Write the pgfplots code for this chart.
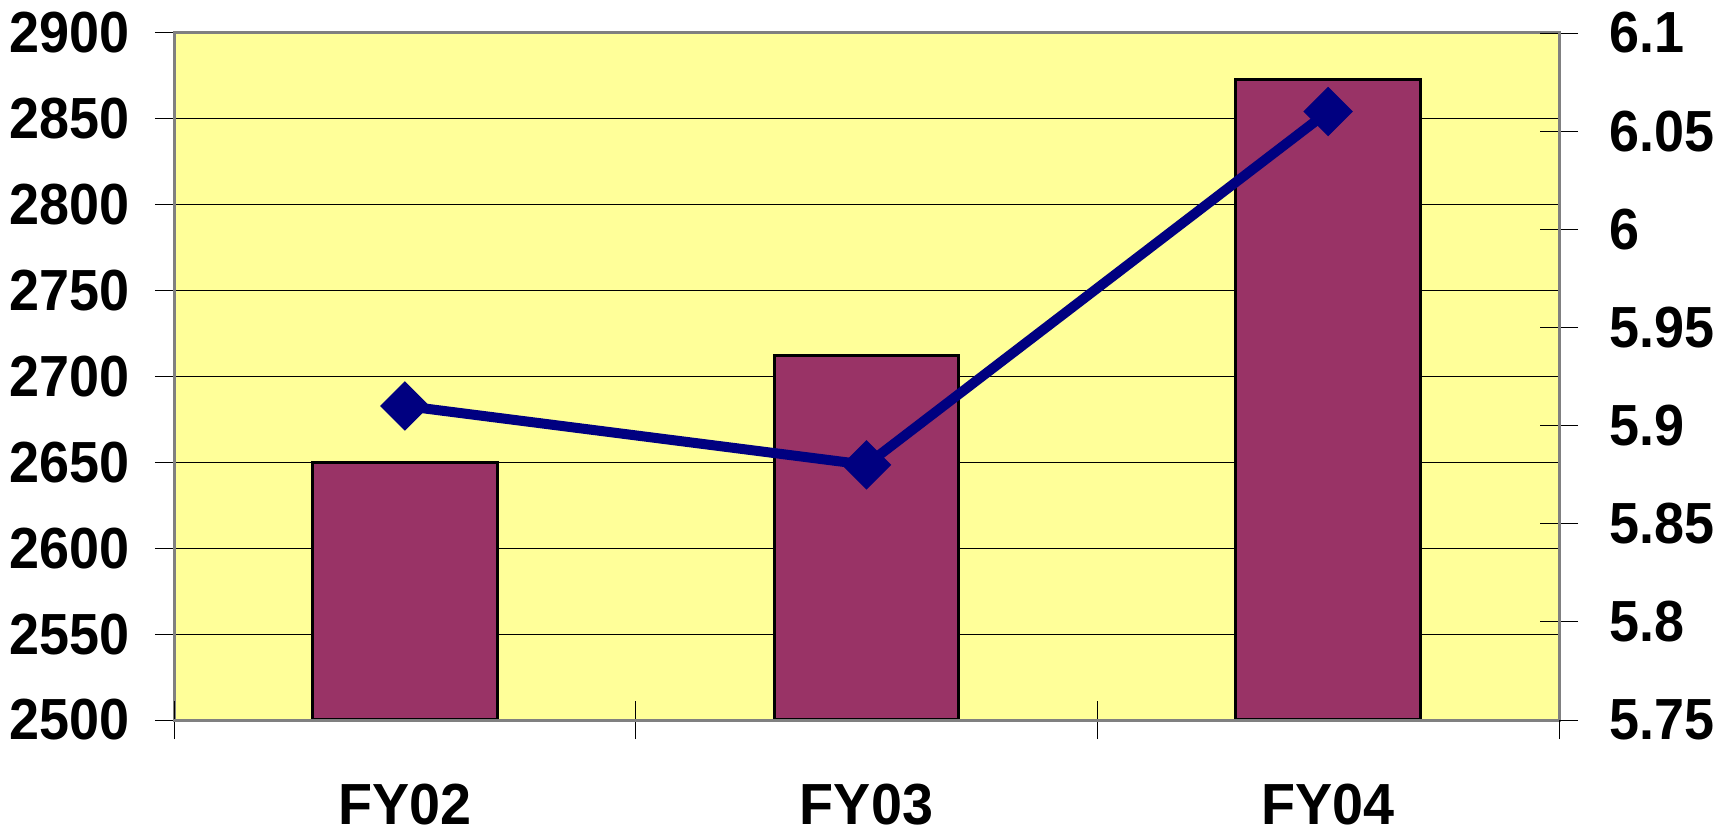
\documentclass[border=0pt]{standalone}
\usepackage{fontspec}
\setmainfont{Liberation Sans}[FakeStretch=0.93]
\newfontfamily\xfont{Liberation Sans}[FakeStretch=0.96]
\usepackage{pgfplots}
\pgfplotsset{compat=1.18}
\definecolor{bgyellow}{HTML}{FFFF99}
\definecolor{barplum}{HTML}{993366}
\definecolor{navy}{HTML}{000080}
\definecolor{axisgray}{HTML}{808080}
\begin{document}
\begin{tikzpicture}
\path[use as bounding box] (0,0) rectangle (864pt,418pt);
\begin{axis}[
  at={(87pt,58pt)}, anchor=south west,
  scale only axis, width=692.5pt, height=343.5pt,
  xmin=-0.5, xmax=2.5, ymin=2500, ymax=2900,
  axis background/.style={fill=bgyellow},
  axis line style={draw=axisgray, line width=1.5pt},
  xtick={0,1,2}, xticklabels={FY02,FY03,FY04},
  major x tick style={draw=none},
  ytick={2500,2550,2600,2650,2700,2750,2800,2850,2900},
  yticklabels={2500,2550,2600,2650,2700,2750,2800,2850,2900},
  xtick pos=bottom, ytick pos=left,
  major tick length=19pt, tick align=center,
  tick style={black, line width=0.5pt},
  ymajorgrids, grid style={black, line width=0.5pt},
  yticklabel style={font=\fontsize{29}{29}\selectfont\bfseries, anchor=east, xshift=-9pt},
  xticklabel style={font=\xfont\fontsize{29}{29}\selectfont\bfseries, anchor=north, yshift=-19pt},
]
\addplot[ybar, bar width=0.4, fill=barplum, draw=black, line width=1.6pt] coordinates {(0,2650) (1,2712) (2,2873)};
\end{axis}
\begin{axis}[
  at={(87pt,58pt)}, anchor=south west,
  scale only axis, width=692.5pt, height=343.5pt,
  xmin=-0.5, xmax=2.5, ymin=5.75, ymax=6.1,
  axis x line*=bottom, axis y line*=right,
  axis line style={draw=axisgray, line width=1.5pt, -},
  xtick={-0.5,0.5,1.5,2.5}, xticklabels={},
  ytick={5.75,5.8,5.85,5.9,5.95,6,6.05,6.1},
  yticklabels={5.75,5.8,5.85,5.9,5.95,6,6.05,6.1},
  major tick length=19pt, tick align=center,
  tick style={black, line width=0.5pt},
  yticklabel style={font=\fontsize{29}{29}\selectfont\bfseries, anchor=west, xshift=12pt},
]
\addplot[navy, line width=5pt, mark=square*, mark size=8.5pt, mark options={rotate=45, fill=navy, draw=navy, line width=0.5pt}] coordinates {(0,5.91) (1,5.88) (2,6.06)};
\end{axis}
\end{tikzpicture}
\end{document}
